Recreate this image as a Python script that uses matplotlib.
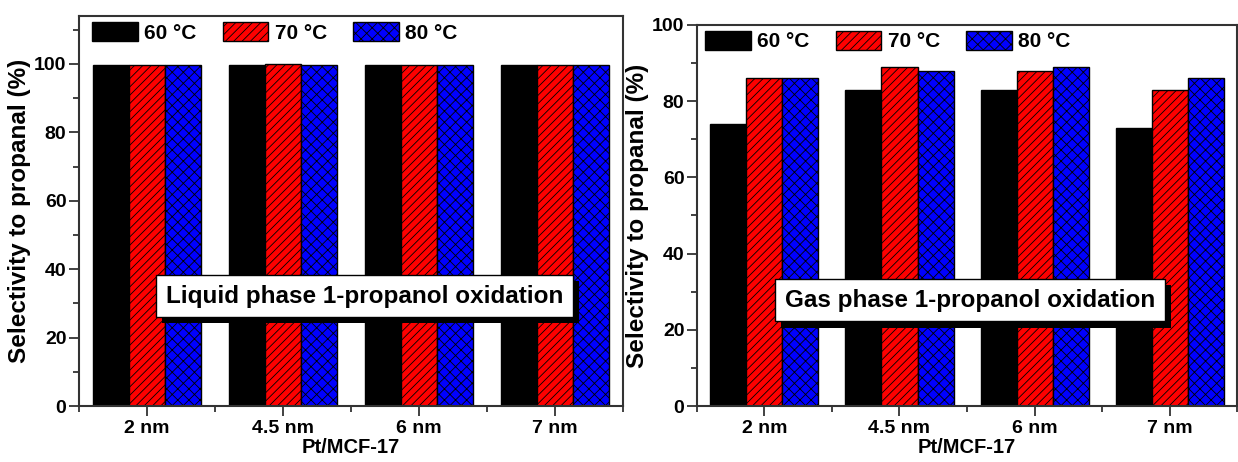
import matplotlib
matplotlib.use("Agg")
import matplotlib.pyplot as plt
import matplotlib.patheffects as pe
from matplotlib.ticker import MultipleLocator, FixedLocator
import numpy as np

plt.rcParams['font.family'] = ['Liberation Sans', 'DejaVu Sans']
plt.rcParams['font.weight'] = 'bold'
plt.rcParams['hatch.linewidth'] = 0.6
plt.rcParams['hatch.color'] = 'black'

# Pt particle sizes on MCF-17
sizes = ["2 nm", "4.5 nm", "6 nm", "7 nm"]
temps = ["60 \u00b0C", "70 \u00b0C", "80 \u00b0C"]

# Selectivity to propanal (%), liquid phase
liquid_60 = [99.7, 99.8, 99.7, 99.8]
liquid_70 = [99.7, 99.9, 99.7, 99.7]
liquid_80 = [99.6, 99.7, 99.6, 99.7]

# Selectivity to propanal (%), gas phase
gas_60 = [74, 83, 83, 73]
gas_70 = [86, 89, 88, 83]
gas_80 = [86, 88, 89, 86]

colors = ["black", "#ff0000", "#0000ff"]
hatches = [None, "////", "xxx"]

fig = plt.figure(figsize=(12.38, 4.62), dpi=100)
ax1 = fig.add_axes([0.0638, 0.1212, 0.4394, 0.8442])
ax2 = fig.add_axes([0.5630, 0.1212, 0.4362, 0.8247])


def draw_panel(ax, series, ymax, title, box_xy, leg_anchor):
    x = np.arange(1, len(sizes) + 1)
    w = 0.8 / 3
    for i, vals in enumerate(series):
        ax.bar(x + (i - 1) * w, vals, width=w, color=colors[i], hatch=hatches[i],
               edgecolor="black", linewidth=1.0, label=temps[i], zorder=2)
    ax.set_xlim(0.5, len(sizes) + 0.5)
    ax.set_ylim(0, ymax)
    ax.set_xticks(x)
    ax.set_xticklabels(sizes)
    ax.xaxis.set_minor_locator(FixedLocator(np.arange(0.5, len(sizes) + 1, 1.0)))
    ax.yaxis.set_major_locator(MultipleLocator(20))
    ax.yaxis.set_minor_locator(MultipleLocator(10))
    ax.tick_params(axis="both", which="major", direction="out", length=7, width=1.3,
                   labelsize=14, color="#333333", pad=2)
    ax.tick_params(axis="both", which="minor", direction="out", length=4, width=1.3,
                   color="#333333")
    ax.tick_params(axis="x", which="major", pad=3)
    for s in ax.spines.values():
        s.set_linewidth(1.5)
        s.set_color("#333333")
    ax.set_xlabel("Pt/MCF-17", fontsize=14.5, fontweight="bold", labelpad=1)
    ax.set_ylabel("Selectivity to propanal (%)", fontsize=17.5, fontweight="bold", labelpad=2)
    leg = ax.legend(loc="upper left", bbox_to_anchor=leg_anchor, ncol=3, frameon=False,
                    fontsize=15, handlelength=2.2, handleheight=1.05,
                    handletextpad=0.3, columnspacing=1.25, borderpad=0,
                    borderaxespad=0)
    for t in leg.get_texts():
        t.set_fontweight("bold")
    txt = ax.text(box_xy[0], box_xy[1], title, transform=ax.transAxes,
                  ha="center", va="center", fontsize=17.5, fontweight="bold", zorder=5,
                  bbox=dict(boxstyle="square,pad=0.4", facecolor="white",
                            edgecolor="black", linewidth=1.0))
    txt.get_bbox_patch().set_path_effects([
        pe.SimplePatchShadow(offset=(4.5, -4.5), shadow_rgbFace="black", alpha=1.0),
        pe.Normal()])


draw_panel(ax1, [liquid_60, liquid_70, liquid_80], 114,
           "Liquid phase 1-propanol oxidation", (0.525, 0.282), (0.024, 0.985))
draw_panel(ax2, [gas_60, gas_70, gas_80], 100,
           "Gas phase 1-propanol oxidation", (0.505, 0.278), (0.015, 0.985))

fig.savefig("out.png", dpi=100)
